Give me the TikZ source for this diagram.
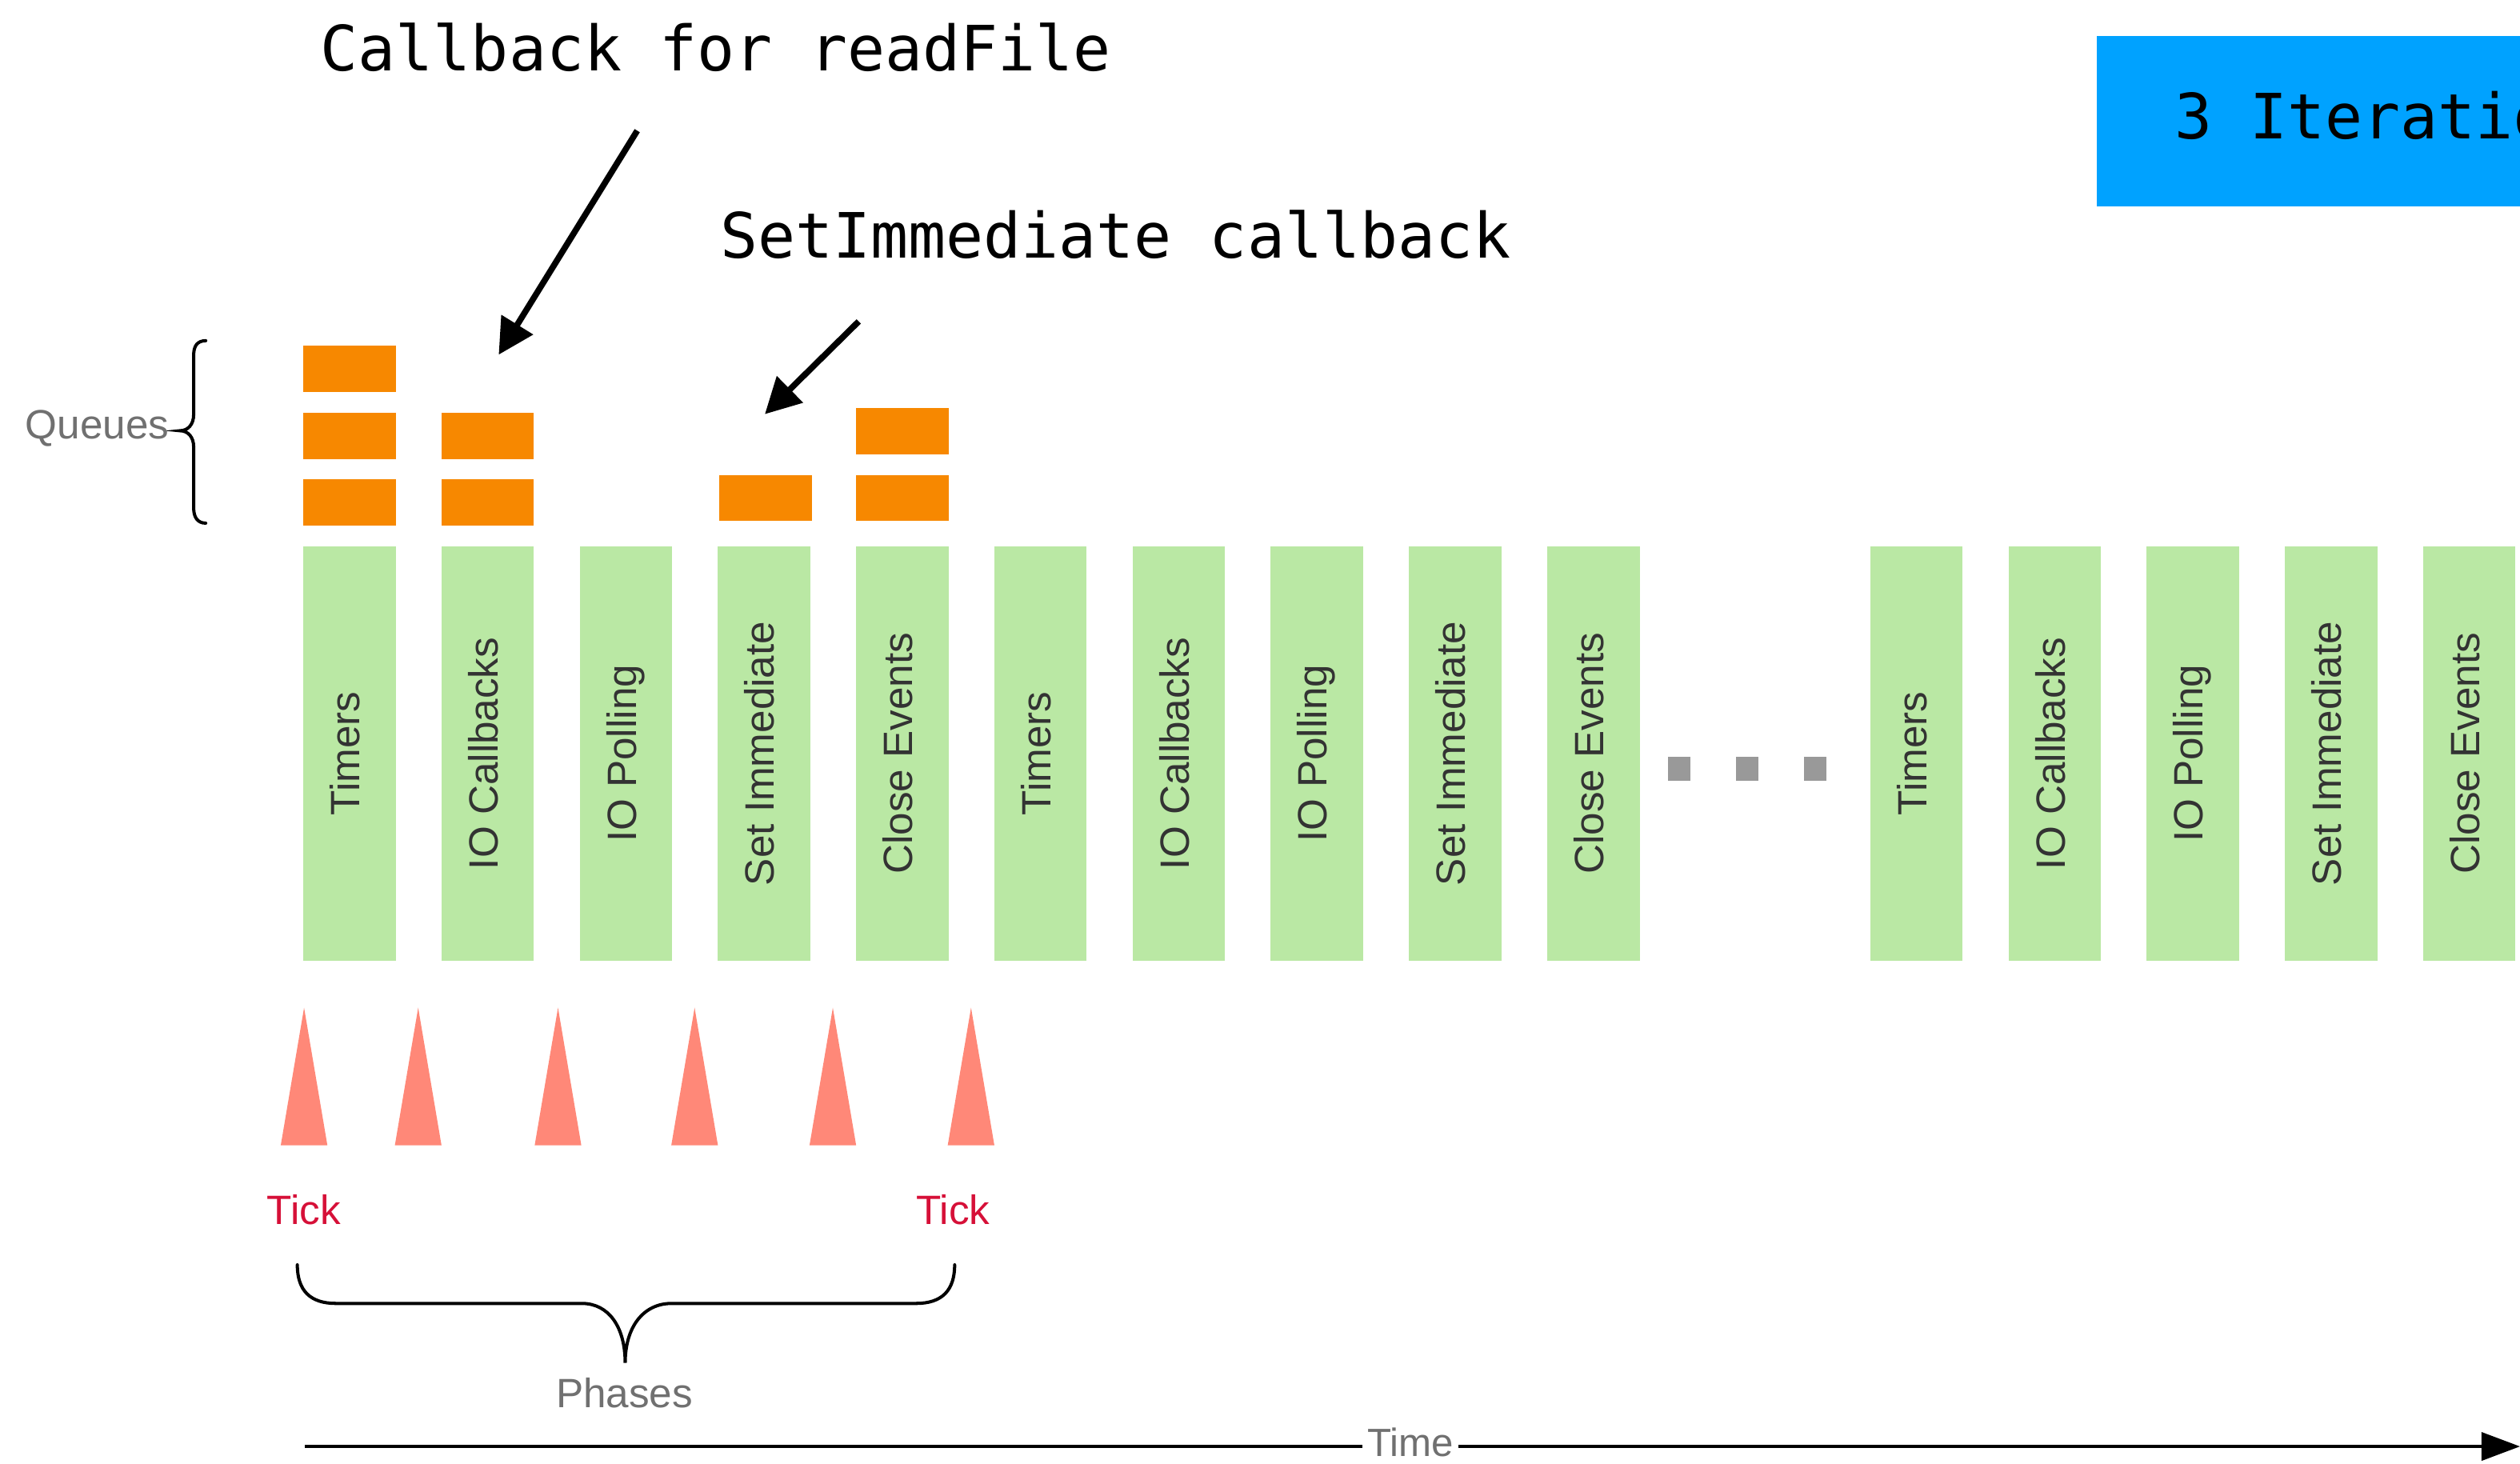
\documentclass[tikz,border=0pt]{standalone}
\usepackage{fontspec}
\setmainfont{Liberation Sans}
\newfontfamily\codefont{DejaVu Sans Mono}
\usetikzlibrary{arrows.meta,calc}

\definecolor{phaseGreen}{RGB}{186,232,164}
\definecolor{queueOrange}{RGB}{247,136,0}
\definecolor{tickSalmon}{RGB}{255,136,120}
\definecolor{tickRed}{RGB}{214,16,56}
\definecolor{iterBlue}{RGB}{0,162,255}
\definecolor{labelGrey}{RGB}{112,112,112}
\definecolor{phaseText}{RGB}{51,51,51}
\definecolor{dotGrey}{RGB}{153,153,153}

\begin{document}
\begin{tikzpicture}[x=1pt,y=-1pt,
  phasebar/.style={fill=phaseGreen, inner sep=0, minimum width=57.5pt,
    minimum height=257.7pt, anchor=north west},
  phasename/.style={rotate=90, anchor=base, inner sep=0, text=phaseText,
    font=\fontsize{25.5}{30}\selectfont},
  queueitem/.style={fill=queueOrange, inner sep=0, minimum width=57.5pt,
    minimum height=28.6pt, anchor=north west},
  ticktri/.style={fill=tickSalmon},
  ticklabel/.style={anchor=base, inner sep=0, text=tickRed,
    font=\fontsize{25.5}{30}\selectfont},
  greylabel/.style={inner sep=0, text=labelGrey,
    font=\fontsize{25.5}{30}\selectfont},
  codelabel/.style={anchor=base west, inner sep=0,
    font={\codefont\fontsize{38.9}{46}\selectfont}},
  bracket/.style={line width=2pt, line cap=round},
  callout/.style={line width=3.8pt, -{Triangle[length=22pt,width=22.4pt]}},
  dotbox/.style={fill=dotGrey, inner sep=0, minimum width=14pt,
    minimum height=15pt, anchor=north west}
]
\useasboundingbox (0,0) rectangle (1568,910.5);
\clip (0,0) rectangle (1568,910.5);

% phase columns: first loop iteration and the later one
\foreach \name [count=\i from 0] in {Timers,IO Callbacks,IO Polling,Set Immediate,Close Events,
    Timers,IO Callbacks,IO Polling,Set Immediate,Close Events} {
  \node[phasebar] (p\i) at ({188.5+86*\i},339.8) {};
  \node[phasename] (pn\i) at ($(p\i.center)+(6.3,0)$) {\name};
}
\foreach \name [count=\j from 0] in {Timers,IO Callbacks,IO Polling,Set Immediate,Close Events} {
  \node[phasebar] (q\j) at ({1163.5+86*\j},339.8) {};
  \node[phasename] (qn\j) at ($(q\j.center)+(6.3,0)$) {\name};
}

% ellipsis between iterations
\node[dotbox] (dotA) at (1037.5,470.5) {};
\node[dotbox] (dotB) at (1080,470.5) {};
\node[dotbox] (dotC) at (1122.3,470.5) {};

% queued callbacks above the phases
\node[queueitem] (qa1) at (188.5,214.9) {};
\node[queueitem] (qa2) at (188.5,256.7) {};
\node[queueitem] (qa3) at (188.5,298.2) {};
\node[queueitem] (qb1) at (274.5,256.7) {};
\node[queueitem] (qb2) at (274.5,298.2) {};
\node[queueitem] (qd1) at (447.5,295.3) {};
\node[queueitem] (qe1) at (532.6,253.9) {};
\node[queueitem] (qe2) at (532.6,295.3) {};

% queues brace and label
\draw[bracket] (128,212) .. controls (123,212) and (120.5,215) .. (120.5,221)
  -- (120.5,258) .. controls (120.5,264) and (117,268) .. (112,268)
  .. controls (117,268) and (120.5,272) .. (120.5,278)
  -- (120.5,316) .. controls (120.5,322) and (123,325.5) .. (128,325.5);
\node[greylabel, anchor=base east] (queues) at (105.4,273) {Queues};

% tick markers
\foreach \t [count=\k] in {189.2,260.2,347.2,432.2,518.2,604.2} {
  \fill[ticktri] (\t,627) -- (\t+14.5,712.6) -- (\t-14.5,712.6) -- cycle;
}
\node[ticklabel] (tickA) at (189,761.6) {Tick};
\node[ticklabel] (tickB) at (593,761.6) {Tick};

% phases brace and label
\draw[bracket] (185,787) .. controls (185,803) and (193,811) .. (209,811)
  -- (362,811) .. controls (379,811) and (389,826) .. (389,848)
  .. controls (389,826) and (400,811) .. (418,811)
  -- (570,811) .. controls (586,811) and (594,803) .. (594,787);
\node[greylabel, anchor=base] (phases) at (388.5,876) {Phases};

% time axis
\coordinate (tStart) at (189.6,900);
\coordinate (tEnd) at (1568,900);
\draw[line width=1.8pt, -{Triangle[length=24pt,width=17.5pt]}] (tStart) -- (tEnd);
\node[greylabel, anchor=base, fill=white, inner xsep=3pt, inner ysep=2pt,
  font=\fontsize{24.5}{30}\selectfont] (time) at (877.7,906) {Time};

% callouts
\node[codelabel] (cbText) at (199.3,44) {Callback for readFile};
\coordinate (cbTail) at (396.5,81.3);
\coordinate (cbHead) at (310.3,220.7);
\draw[callout] (cbTail) -- (cbHead);

\node[codelabel] (siText) at (448,160.6) {SetImmediate callback};
\coordinate (siTail) at (534.3,200);
\coordinate (siHead) at (475.9,257.7);
\draw[callout] (siTail) -- (siHead);

% iteration count banner
\node[fill=iterBlue, inner sep=0, minimum width=400pt, minimum height=105.9pt,
  anchor=north west] (iterBox) at (1304.6,22.4) {};
\node[codelabel] (iterText) at (1353,86.3) {3 Iterations};
\end{tikzpicture}
\end{document}
